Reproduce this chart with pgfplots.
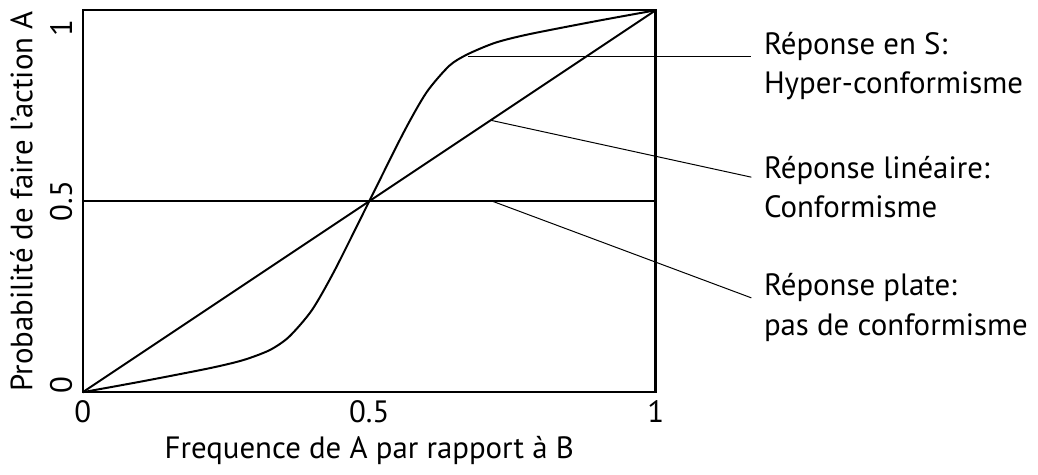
\documentclass[border=0pt]{standalone}
\usepackage{pgfplots}
\pgfplotsset{compat=1.18}
\usepackage{fontspec}
\setmainfont{PT Sans}

\begin{document}
\fontsize{15.5}{20}\selectfont
\begin{tikzpicture}
\begin{axis}[
    scale only axis,
    width=288pt, height=192pt,
    xmin=0, xmax=1, ymin=0, ymax=1,
    xtick={0,0.5,1}, ytick={0,0.5,1},
    xticklabels={0,0.5,1},
    yticklabel={\ifcase\ticknum\makebox[0pt][l]{\kern-0.5pt 0}\or 0.5\or\makebox[0pt][r]{1\kern4.5pt}\fi},
    major tick length=0pt,
    axis line style={line width=1.2pt},
    tick label style={font=\fontsize{15.5}{18}\selectfont},
    x tick label style={yshift=1pt},
    y tick label style={rotate=90, anchor=south},
    label style={font=\fontsize{15.5}{18}\selectfont},
    xlabel={Frequence de A par rapport à B},
    ylabel={Probabilité de faire l’action A},
    xlabel style={yshift=4pt},
    ylabel style={yshift=-2pt},
    clip=false,
]
% reponse en S
\addplot[black, line width=1pt, smooth, tension=0.45] coordinates {
    (0,0) (0.106,0.029) (0.222,0.063) (0.28,0.084) (0.326,0.11) (0.36,0.145)
    (0.40,0.215) (0.44,0.32) (0.5,0.5) (0.56,0.68) (0.60,0.785)
    (0.64,0.855) (0.672,0.885) (0.72,0.915) (0.778,0.937) (0.894,0.971) (1,1)
};
% reponse lineaire
\addplot[black, line width=1pt] coordinates {(0,0) (1,1)};
% reponse plate
\addplot[black, line width=1pt] coordinates {(0,0.5) (1,0.5)};

% renvois vers les legendes
\draw[line width=0.5pt] (axis cs:0.672,0.88) -- (axis cs:1.167,0.88);
\draw[line width=0.5pt] (axis cs:0.712,0.712) -- (axis cs:1.167,0.563);
\draw[line width=0.5pt] (axis cs:0.715,0.5) -- (axis cs:1.167,0.247);

\node[anchor=west, align=left, xshift=1pt, yshift=-5pt] at (axis cs:1.167,0.88)
    {Réponse en S:\\Hyper-conformisme};
\node[anchor=west, align=left, xshift=1pt, yshift=-5pt] at (axis cs:1.167,0.563)
    {Réponse linéaire:\\Conformisme};
\node[anchor=west, align=left, xshift=1pt, yshift=-5pt] at (axis cs:1.167,0.247)
    {Réponse plate:\\pas de conformisme};
\end{axis}
\end{tikzpicture}
\end{document}
